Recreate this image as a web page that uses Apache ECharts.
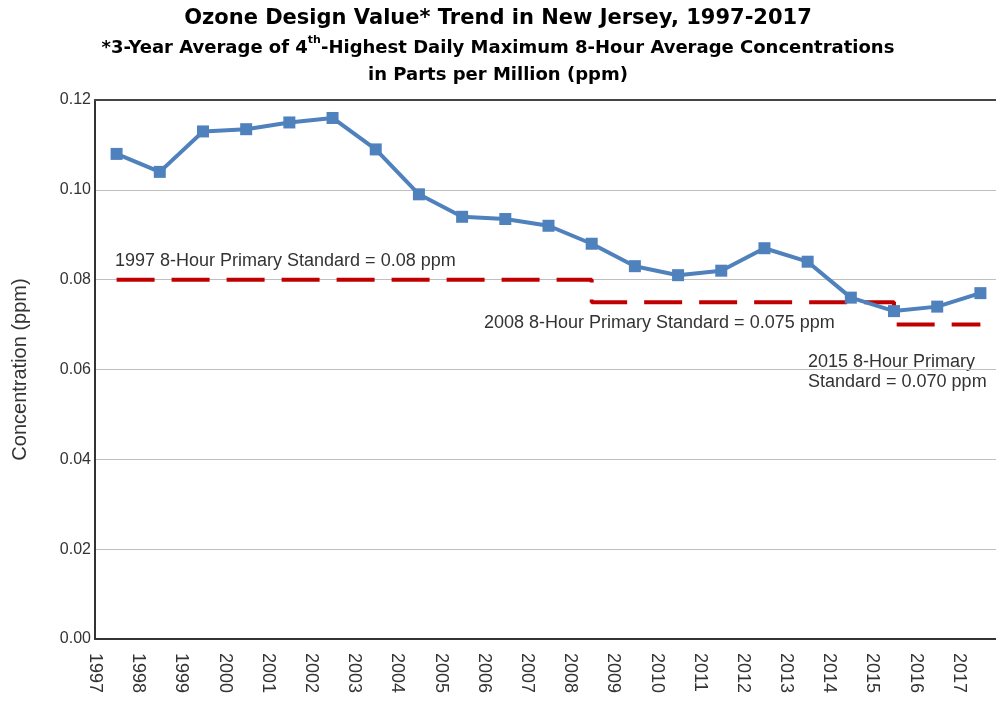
<!DOCTYPE html>
<html>
<head>
<meta charset="utf-8">
<script src="https://cdn.jsdelivr.net/npm/echarts@6/dist/echarts.min.js"></script>
<style>
  html, body { margin: 0; padding: 0; background: #fff; }
  #chart { width: 996px; height: 701px; }
</style>
</head>
<body>
<div id="chart"></div>
<script>
// years on the x axis
var years = ['1997','1998','1999','2000','2001','2002','2003','2004','2005','2006','2007',
             '2008','2009','2010','2011','2012','2013','2014','2015','2016','2017'];
// ozone design values (ppm)
var designValues = [0.108, 0.104, 0.113, 0.1135, 0.115, 0.116, 0.109, 0.099, 0.094, 0.0935, 0.092,
                    0.088, 0.083, 0.081, 0.082, 0.087, 0.084, 0.076, 0.073, 0.074, 0.077];
// primary standard in force (drawn as step line)
var standard = [0.08, 0.08, 0.08, 0.08, 0.08, 0.08, 0.08, 0.08, 0.08, 0.08, 0.08,
                0.075, 0.075, 0.075, 0.075, 0.075, 0.075, 0.075, 0.07, 0.07, 0.07];
// tick labels sit on category boundaries
var boundaryLabels = years.concat(['']);

var chart = echarts.init(document.getElementById('chart'));
var txt = '#333';
var font = '"Liberation Sans", Arial, sans-serif';
var titleFont = '"DejaVu Sans", Verdana, sans-serif';

var option = {
  backgroundColor: '#fff',
  animation: false,
  textStyle: { fontFamily: font },
  title: [
    {
      text: 'Ozone Design Value* Trend in New Jersey, 1997-2017',
      left: 'center', top: 3,
      textStyle: { fontSize: 21, fontWeight: 'bold', color: '#000', fontFamily: titleFont }
    },
    {
      text: '{b|*3-Year Average of 4}{s|th}{b|-Highest Daily Maximum 8-Hour Average Concentrations}\n{b|in Parts per Million (ppm)}',
      left: 'center', top: 30,
      textStyle: {
        fontFamily: titleFont,
        rich: {
          b: { fontSize: 18, fontWeight: 'bold', color: '#000', lineHeight: 27, fontFamily: titleFont },
          s: { fontSize: 11, fontWeight: 'bold', color: '#000', verticalAlign: 'top', lineHeight: 27, padding: [0, 0, 8, 0], fontFamily: titleFont }
        }
      }
    }
  ],
  grid: { left: 95, right: -6, top: 100, bottom: 62, outerBoundsMode: 'none' },
  xAxis: [
    {
      type: 'category', data: years, boundaryGap: true, position: 'top', z: 5,
      axisLine: { onZero: false, lineStyle: { color: '#444', width: 2 } },
      axisTick: { show: false }, axisLabel: { show: false }, splitLine: { show: false }
    },
    {
      type: 'category', data: boundaryLabels, boundaryGap: false, position: 'bottom',
      axisLine: { onZero: false, lineStyle: { color: '#333', width: 2 } },
      axisTick: { show: false },
      axisLabel: { rotate: -90, color: txt, fontSize: 18, margin: 14, interval: 0, fontFamily: font },
      splitLine: { show: false }
    }
  ],
  yAxis: {
    type: 'value', min: 0, max: 0.12, interval: 0.02,
    name: 'Concentration (ppm)', nameLocation: 'middle', nameGap: 65,
    nameTextStyle: { color: txt, fontSize: 20, fontFamily: font },
    axisLine: { show: true, lineStyle: { color: '#333', width: 2 } },
    axisTick: { show: false },
    axisLabel: { color: txt, fontSize: 16, margin: 4, fontFamily: font,
      formatter: function (v) { return v.toFixed(2); } },
    splitLine: { lineStyle: { color: '#bfbfbf', width: 1 } }
  },
  series: [
    {
      name: 'Standard', type: 'line', xAxisIndex: 0, data: standard, step: 'end',
      symbol: 'none', z: 3,
      lineStyle: { color: '#c00000', width: 4, type: [38, 17] }
    },
    {
      name: 'Design Value', type: 'line', xAxisIndex: 0, data: designValues,
      symbol: 'rect', symbolSize: 12, z: 4,
      lineStyle: { color: '#4f81bd', width: 4 },
      itemStyle: { color: '#4f81bd' }
    }
  ],
  graphic: [
    { type: 'text', left: 115, top: 252, style: { text: '1997 8-Hour Primary Standard = 0.08 ppm', fill: txt, font: '18px ' + font } },
    { type: 'text', left: 484, top: 314, style: { text: '2008 8-Hour Primary Standard = 0.075 ppm', fill: txt, font: '18px ' + font } },
    { type: 'text', left: 808, top: 352, style: { text: '2015 8-Hour Primary\nStandard = 0.070 ppm', fill: txt, font: '18px ' + font, lineHeight: 20 } }
  ]
};
chart.setOption(option);
window.addEventListener('resize', function () { chart.resize(); });
</script>
</body>
</html>
